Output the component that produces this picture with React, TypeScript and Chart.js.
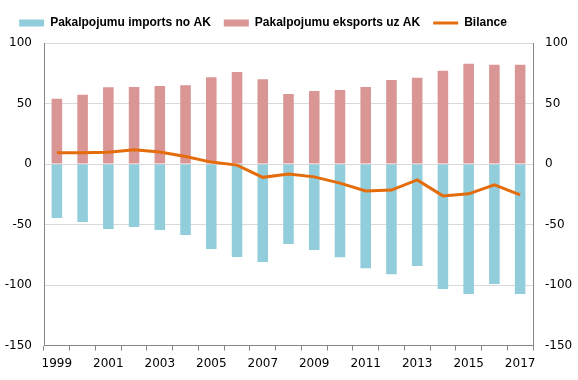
import React, { useEffect, useRef } from "react";
import { Chart, registerables } from "chart.js";

Chart.register(...registerables);

const years = ["1999","2000","2001","2002","2003","2004","2005","2006","2007","2008","2009","2010","2011","2012","2013","2014","2015","2016","2017"];
const imports = [-44.6,-47.9,-53.7,-52,-54.5,-58.7,-70.2,-76.9,-81,-66,-71,-77,-86,-91,-84.3,-103.3,-107.4,-99.2,-107.4];
const exportsUz = [54,57.3,63.5,63.7,64.5,65,71.8,76,70,57.8,60.4,61.2,63.7,69.5,71.2,77,82.8,82,82];
const bilance = [9.4,9.4,9.8,11.7,10,6.3,1.6,-0.9,-11,-8.2,-10.6,-15.8,-22.3,-21.5,-13.1,-26.3,-24.6,-17.2,-25.4];
const seriesNames = ["Pakalpojumu imports no AK", "Pakalpojumu eksports uz AK", "Bilance"];

const BLUE = "#92CDDC";
const PINK = "#D99694";
const ORANGE = "#E46C0A";
const AXIS = "#868686";
const GRID = "#D9D9D9";

const legendSpace = {
  id: "legendSpace",
  beforeLayout(chart: any) {
    const lg = chart.legend;
    if (lg && !lg._patched) {
      const orig = lg.fit;
      lg.fit = function () {
        orig.call(this);
        this.height += 4;
      };
      lg._patched = true;
    }
  },
  afterLayout(chart: any) {
    const lg = chart.legend;
    if (lg) {
      lg.left -= 26;
      lg.right -= 26;
    }
  },
};

export default function App() {
  const ref = useRef<HTMLCanvasElement>(null);
  useEffect(() => {
    const ctx = ref.current!;
    const chart = new Chart(ctx, {
      type: "bar",
      data: {
        labels: years,
        datasets: [
          { type: "bar", label: seriesNames[0], data: imports, backgroundColor: BLUE, stack: "s", order: 1, barPercentage: 0.41, categoryPercentage: 1 },
          { type: "bar", label: seriesNames[1], data: exportsUz, backgroundColor: PINK, stack: "s", order: 1, barPercentage: 0.41, categoryPercentage: 1 },
          { type: "line", label: seriesNames[2], data: bilance, borderColor: ORANGE, backgroundColor: ORANGE, borderWidth: 3, pointRadius: 0, tension: 0, stack: "line", order: 0 },
        ],
      },
      plugins: [legendSpace],
      options: {
        animation: false,
        responsive: false,
        maintainAspectRatio: false,
        layout: { padding: { top: 4, bottom: 3, left: 0, right: 0 } },
        plugins: {
          tooltip: { enabled: false },
          legend: {
            position: "top",
            labels: {
              font: { family: "Liberation Sans", size: 12, weight: "bold" },
              color: "#000",
              usePointStyle: true,
              pointStyleWidth: 25,
              boxHeight: 7,
              padding: 13,
              generateLabels: (c: any) => {
                const items = Chart.defaults.plugins.legend.labels.generateLabels(c);
                items.forEach((it: any) => {
                  if (it.datasetIndex === 2) {
                    it.pointStyle = "line";
                    it.strokeStyle = ORANGE;
                    it.lineWidth = 3;
                  } else {
                    it.pointStyle = "rect";
                    it.lineWidth = 0;
                  }
                });
                return items.sort((a: any, b: any) => a.datasetIndex - b.datasetIndex);
              },
            },
          },
        },
        scales: {
          x: {
            stacked: true,
            offset: true,
            grid: { display: true, drawOnChartArea: false, drawTicks: true, tickLength: 5, color: AXIS, offset: true },
            border: { color: AXIS },
            ticks: {
              autoSkip: false,
              maxRotation: 0,
              font: { family: "DejaVu Sans", size: 12 },
              color: "#000",
              padding: 6,
              callback: (_v: any, i: number) => (i % 2 === 0 ? years[i] : ""),
            },
          },
          y: {
            stacked: true,
            position: "left",
            min: -150,
            max: 100,
            afterFit: (s: any) => { s.width = 44; },
            grid: { color: GRID, drawTicks: false },
            border: { color: AXIS },
            ticks: { stepSize: 50, padding: 12, font: { family: "DejaVu Sans", size: 12 }, color: "#000" },
          },
          y2: {
            position: "right",
            min: -150,
            max: 100,
            afterFit: (s: any) => { s.width = 45; },
            grid: { drawOnChartArea: false, drawTicks: false },
            border: { color: AXIS },
            ticks: { stepSize: 50, padding: 12, font: { family: "DejaVu Sans", size: 12 }, color: "#000" },
          },
        },
      },
    } as any);
    return () => chart.destroy();
  }, []);
  return (
    <div style={{ position: "absolute", left: 0, top: 0, width: 578, height: 380, background: "#fff" }}>
      <canvas ref={ref} width={578} height={380} style={{ width: 578, height: 380 }} />
    </div>
  );
}
